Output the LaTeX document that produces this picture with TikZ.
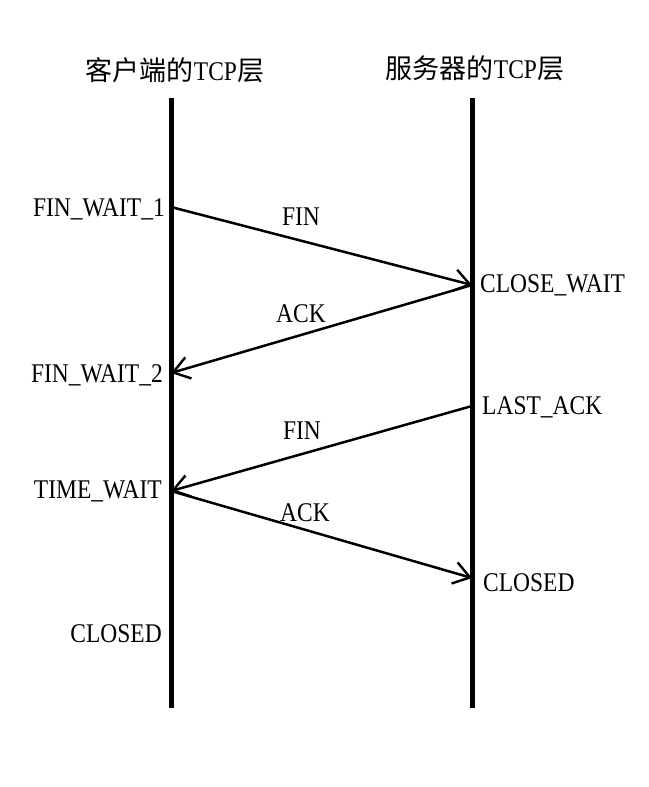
\documentclass[tikz,border=0pt]{standalone}
\usepackage{fontspec}
\setmainfont[FakeStretch=0.87]{Liberation Serif}
\newfontfamily\cjk{Noto Sans CJK SC}
\usetikzlibrary{arrows.meta}
\begin{document}
\begin{tikzpicture}[x=1pt,y=-1pt,
  lifeline/.style={line width=5pt},
  msg/.style={line width=2.5pt,-{Straight Barb[length=16pt,width=22pt,line width=2.4pt]}},
  lbl/.style={inner sep=0pt,font=\fontsize{27}{31}\selectfont},
  ttl/.style={inner sep=0pt,font=\fontsize{27}{32}\selectfont}]
\useasboundingbox (0,0) rectangle (648,787);
% lifelines
\coordinate (ltop) at (171,98);
\coordinate (lbot) at (171,708);
\coordinate (rtop) at (472,98);
\coordinate (rbot) at (472,708);
\draw[lifeline] (ltop) -- (lbot);
\draw[lifeline] (rtop) -- (rbot);
% titles
\node[ttl] (tl) at (175,70) {{\cjk 客户端的}TCP{\cjk 层}};
\node[ttl] (tr) at (475,68) {{\cjk 服务器的}TCP{\cjk 层}};
% event points
\coordinate (a1) at (171,207);
\coordinate (b1) at (472,285);
\coordinate (a2) at (171,373);
\coordinate (b2) at (472,406);
\coordinate (a3) at (171,491);
\coordinate (b3) at (472,578);
% messages
\draw[msg] (a1) -- (b1);
\draw[msg] (b1) -- (a2);
\draw[msg] (b2) -- (a3);
\draw[msg] (a3) -- (b3);
% message labels
\node[lbl] (m1) at (301,217) {FIN};
\node[lbl] (m2) at (301,314) {ACK};
\node[lbl] (m3) at (302,431) {FIN};
\node[lbl] (m4) at (305,513) {ACK};
% states client
\node[lbl,anchor=east] (s1) at (165,209) {FIN\_WAIT\_1};
\node[lbl,anchor=east] (s2) at (163,375) {FIN\_WAIT\_2};
\node[lbl,anchor=east] (s3) at (162,491) {TIME\_WAIT};
\node[lbl,anchor=east] (s4) at (162,634) {CLOSED};
% states server
\node[lbl,anchor=west] (r1) at (480,285) {CLOSE\_WAIT};
\node[lbl,anchor=west] (r2) at (482,407) {LAST\_ACK};
\node[lbl,anchor=west] (r3) at (483,583) {CLOSED};
\end{tikzpicture}
\end{document}
